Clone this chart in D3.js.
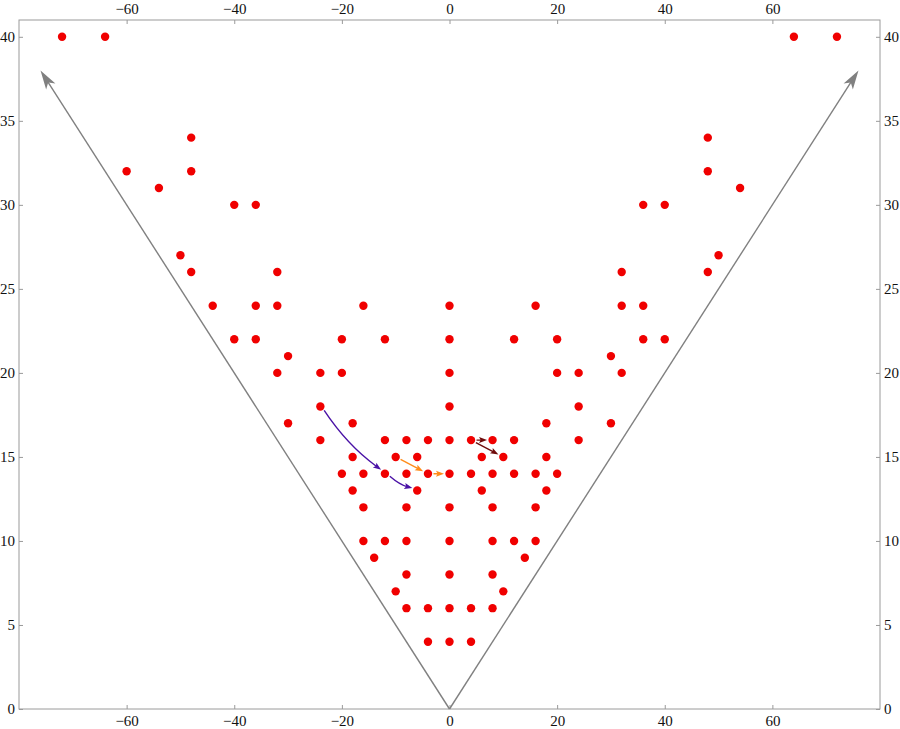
<!DOCTYPE html>
<html>
<head>
<meta charset="utf-8">
<script src="https://cdn.jsdelivr.net/npm/d3@7"></script>
<style>
  html, body { margin: 0; padding: 0; background: #fff; }
  svg { display: block; }
  .tick text { font-family: "Liberation Serif", "Times New Roman", serif; font-size: 15px; fill: #111; }
</style>
</head>
<body>
<svg id="chart" width="900" height="729"></svg>
<script>
// ---------------- data ----------------
const xTicks = [-60, -40, -20, 0, 20, 40, 60];
const yTicks = [0, 5, 10, 15, 20, 25, 30, 35, 40];

// point rows: y level and the x positions of the red points on it
const rowY = [40, 34, 32, 31, 30, 27, 26, 24, 22, 21, 20, 18, 17, 16, 15, 14, 13, 12, 10, 9, 8, 7, 6, 4];
const rowX = [
  [-72, -64, 64, 72],
  [-48, 48],
  [-60, -48, 48],
  [-54, 54],
  [-40, -36, 36, 40],
  [-50, 50],
  [-48, -32, 32, 48],
  [-44, -36, -32, -16, 0, 16, 32, 36],
  [-40, -36, -20, -12, 0, 12, 20, 36, 40],
  [-30, 30],
  [-32, -24, -20, 0, 20, 24, 32],
  [-24, 0, 24],
  [-30, -18, 18, 30],
  [-24, -12, -8, -4, 0, 4, 8, 12, 24],
  [-18, -10, -6, 6, 10, 18],
  [-20, -16, -12, -8, -4, 0, 4, 8, 12, 16, 20],
  [-18, -6, 6, 18],
  [-16, -8, 0, 8, 16],
  [-16, -12, -8, 0, 8, 12, 16],
  [-14, 14],
  [-8, 0, 8],
  [-10, 10],
  [-8, -4, 0, 4, 8],
  [-4, 0, 4]
];

// cone boundary rays (from origin to tip)
const coneTips = [[-76, 38], [76, 38]];

// transition arrows: [from, to]
const purpleArrows = [[[-24, 18], [-12, 14]], [[-12, 14], [-6, 13]]];
const orangeArrows = [[[-10, 15], [-4, 14]], [[-4, 14], [0, 14]]];
const maroonArrows = [[[4, 16], [8, 16]], [[4, 16], [10, 15]]];

// ---------------- drawing ----------------
const svg = d3.select("#chart");
const L = 19, R = 880, T = 20, B = 709;
const x = d3.scaleLinear().domain([-80, 80]).range([L, R]);
const y = d3.scaleLinear().domain([0, 41]).range([B, T]);

const frameColor = "#9a9a9a";

function styleAxis(g) {
  g.select(".domain").remove();
  g.selectAll(".tick line").attr("stroke", frameColor);
}
svg.append("g").attr("transform", `translate(0,${B})`)
  .call(d3.axisBottom(x).tickValues(xTicks).tickSizeInner(-4).tickSizeOuter(0).tickPadding(6))
  .call(styleAxis);
svg.append("g").attr("transform", `translate(0,${T})`)
  .call(d3.axisTop(x).tickValues(xTicks).tickSizeInner(-4).tickSizeOuter(0).tickPadding(6))
  .call(styleAxis);
svg.append("g").attr("transform", `translate(${L},0)`)
  .call(d3.axisLeft(y).tickValues(yTicks).tickSizeInner(-4).tickSizeOuter(0).tickPadding(4))
  .call(styleAxis);
svg.append("g").attr("transform", `translate(${R},0)`)
  .call(d3.axisRight(y).tickValues(yTicks).tickSizeInner(-4).tickSizeOuter(0).tickPadding(4))
  .call(styleAxis);

svg.append("rect")
  .attr("x", L).attr("y", T).attr("width", R - L).attr("height", B - T)
  .attr("fill", "none").attr("stroke", frameColor).attr("stroke-width", 1);

// arrowhead path helper: tip at (tx,ty), direction (ux,uy) unit, length len, half-width w
function headPath(tx, ty, ux, uy, len, w, notch) {
  const px = -uy, py = ux;
  const bx = tx - ux * len, by = ty - uy * len;
  const nx = tx - ux * len * (1 - notch), ny = ty - uy * len * (1 - notch);
  return `M${tx},${ty}L${bx + px * w},${by + py * w}L${nx},${ny}L${bx - px * w},${by - py * w}Z`;
}

// cone rays
const grayC = "#808080";
coneTips.forEach(tip => {
  const x0 = x(0), y0 = y(0), x1 = x(tip[0]), y1 = y(tip[1]);
  const dx = x1 - x0, dy = y1 - y0, d = Math.hypot(dx, dy);
  const ux = dx / d, uy = dy / d;
  const len = 19;
  svg.append("line")
    .attr("x1", x0).attr("y1", y0)
    .attr("x2", x1 - ux * len * 0.7).attr("y2", y1 - uy * len * 0.7)
    .attr("stroke", grayC).attr("stroke-width", 1.4);
  svg.append("path").attr("d", headPath(x1, y1, ux, uy, len, 5.5, 0.25)).attr("fill", grayC);
});

// red points
const pts = [];
rowY.forEach((yy, i) => rowX[i].forEach(xx => pts.push([xx, yy])));
svg.append("g").selectAll("circle").data(pts).join("circle")
  .attr("cx", d => x(d[0])).attr("cy", d => y(d[1])).attr("r", 4.2)
  .attr("fill", "#f00000");

// transition arrows
function drawArrows(list, color, bend) {
  list.forEach(([a, b]) => {
    const x0 = x(a[0]), y0 = y(a[1]), x1 = x(b[0]), y1 = y(b[1]);
    const dx = x1 - x0, dy = y1 - y0, d = Math.hypot(dx, dy);
    const ux = dx / d, uy = dy / d;
    const sb = 5.5; // setback from point centres
    const sx = x0 + ux * sb, sy = y0 + uy * sb;
    const ex = x1 - ux * sb, ey = y1 - uy * sb;
    const mx = (sx + ex) / 2 + (-uy) * (-bend) * d, my = (sy + ey) / 2 + (ux) * (-bend) * d;
    let tx = ex - mx, ty = ey - my;
    const tl = Math.hypot(tx, ty); tx /= tl; ty /= tl;
    const hl = 8;
    const path = d3.path();
    path.moveTo(sx, sy);
    path.quadraticCurveTo(mx, my, ex - tx * hl * 0.7, ey - ty * hl * 0.7);
    svg.append("path").attr("d", path.toString())
      .attr("fill", "none").attr("stroke", color).attr("stroke-width", 1.4);
    svg.append("path").attr("d", headPath(ex, ey, tx, ty, hl, 3, 0.2)).attr("fill", color);
  });
}
drawArrows(purpleArrows, "#4a12a6", -0.08);
drawArrows(orangeArrows, "#ff8c1a", 0);
drawArrows(maroonArrows, "#6e0c0c", 0);
</script>
</body>
</html>
